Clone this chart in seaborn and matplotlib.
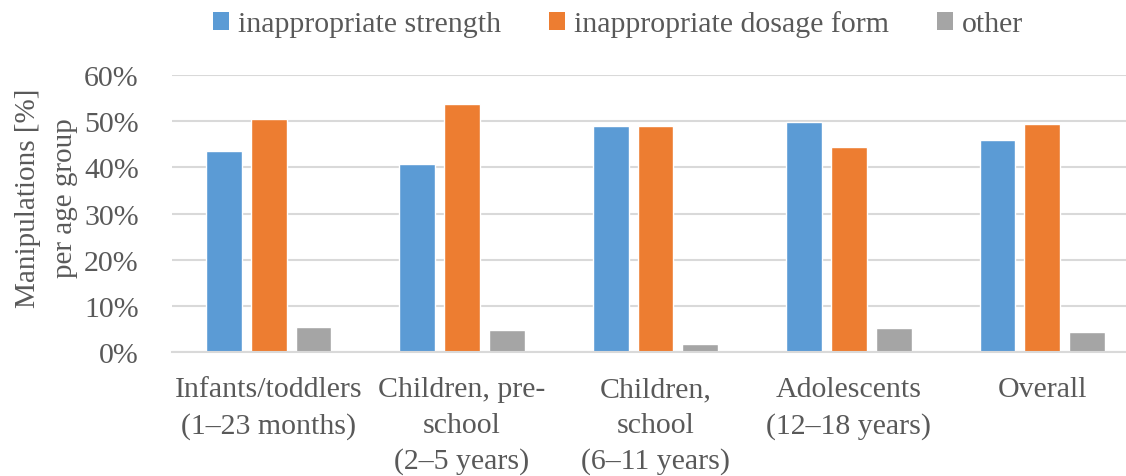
import matplotlib
matplotlib.use("Agg")
import matplotlib.pyplot as plt
import seaborn as sns
import pandas as pd
from matplotlib.patches import Patch

categories = ["Infants/toddlers\n(1–23 months)", "Children, pre-\nschool\n(2–5 years)",
              "Children,\nschool\n(6–11 years)", "Adolescents\n(12–18 years)", "Overall"]
series = ["inappropriate strength", "inappropriate dosage form", "other"]
strength = [43.6, 40.8, 49.0, 49.9, 45.9]
dosage_form = [50.5, 53.7, 49.0, 44.4, 49.3]
other = [5.5, 4.9, 1.7, 5.3, 4.4]
colors = ["#5B9BD5", "#ED7D31", "#A5A5A5"]

rows = []
for s, vals in zip(series, [strength, dosage_form, other]):
    for c, v in zip(categories, vals):
        rows.append({"category": c, "series": s, "value": v})
df = pd.DataFrame(rows)

sns.set_theme(style="white")
plt.rcParams["font.family"] = ["Liberation Serif", "DejaVu Serif"]
txt = "#595959"
fs = 21.5

fig = plt.figure(figsize=(11.26, 4.77), dpi=100)
ax = fig.add_axes([172/1126, 1-353.3/477, (1139-172)/1126, (353.3-76)/477])
sns.barplot(data=df, x="category", y="value", hue="series", palette=colors,
            width=0.695, gap=0.2, ax=ax, saturation=1, legend=False)

ax.set_ylim(0, 60)
ax.set_xlim(-0.5, 4.5)
ax.set_yticks(range(0, 61, 10))
ax.set_yticklabels([f"{t}%" for t in range(0, 61, 10)])
ax.yaxis.grid(True, color="#d9d9d9", linewidth=1.5)
ax.set_axisbelow(True)
for sp in ["top", "right", "left"]:
    ax.spines[sp].set_visible(False)
ax.spines["bottom"].set_color("#d9d9d9")
ax.spines["bottom"].set_linewidth(1.5)
ax.tick_params(axis="both", length=0, labelsize=fs, colors=txt)
ax.tick_params(axis="x", pad=17)
ax.tick_params(axis="y", pad=24)
for lab in ax.get_xticklabels():
    lab.set_linespacing(1.48)
ax.set_xlabel("")
ax.set_ylabel("Manipulations [%]\nper age group", fontsize=21, color=txt, linespacing=1.55)
ax.yaxis.set_label_coords(-0.097, 0.56)

handles = [Patch(facecolor=c, edgecolor="none") for c in colors]
fig.legend(handles, series, loc="center", bbox_to_anchor=(618/1126, 1-25/477), ncol=3,
           frameon=False, fontsize=fs, labelcolor=txt, handlelength=0.55, handleheight=0.55,
           handletextpad=0.3, columnspacing=1.6)

fig.savefig("out.png", dpi=100)
